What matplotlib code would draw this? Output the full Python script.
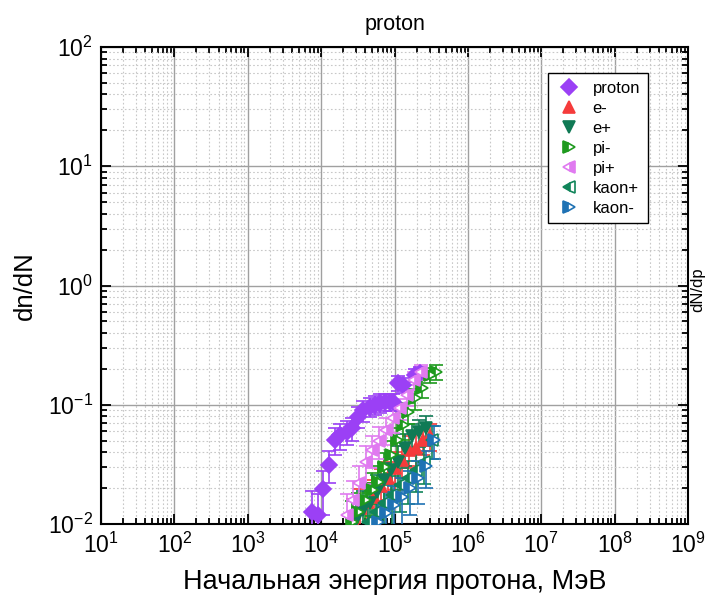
import matplotlib
matplotlib.use("Agg")
import matplotlib.pyplot as plt
from matplotlib.lines import Line2D
from matplotlib.ticker import LogLocator, NullFormatter

plt.rcParams['font.family'] = ['Liberation Sans', 'DejaVu Sans']
plt.rcParams['mathtext.fontset'] = 'custom'
plt.rcParams['mathtext.rm'] = 'Liberation Sans'
plt.rcParams['axes.unicode_minus'] = False

# ---- data ----
proton_E = [7450, 8980, 10700, 12900, 15450, 18100, 22300, 26100, 32100, 37600,
            46400, 54200, 63400, 74200, 86800, 96300, 113000, 132000, 190000, 223000]
proton_y = [0.0127, 0.0119, 0.0197, 0.0313, 0.0506, 0.0557, 0.0594, 0.0638, 0.0794, 0.0904,
            0.0964, 0.0996, 0.1035, 0.106, 0.106, 0.106, 0.152, 0.147, 0.178, 0.1845]
proton_err = [0.5, 0.5, 0.4, 0.3, 0.25, 0.25, 0.22, 0.22, 0.2, 0.2,
              0.18, 0.18, 0.18, 0.17, 0.17, 0.17, 0.15, 0.15, 0.12, 0.12]

em_E = [27200, 33900, 42200, 52600, 65500, 81600, 102000, 126000, 158000, 196000, 245000, 305000]
em_y = [0.0108, 0.0136, 0.0153, 0.0168, 0.0208, 0.0243, 0.0295, 0.0344, 0.0418, 0.0434, 0.0506, 0.0547]
em_err = [0.5, 0.45, 0.45, 0.4, 0.4, 0.35, 0.35, 0.3, 0.3, 0.3, 0.25, 0.25]

ep_E = [29900, 37200, 46400, 57800, 71900, 89600, 112000, 139000, 173000, 216000, 269000]
ep_y = [0.0108, 0.0131, 0.0150, 0.0185, 0.0234, 0.0284, 0.0331, 0.0434, 0.0547, 0.0591, 0.0638]
ep_err = [0.5, 0.45, 0.45, 0.4, 0.4, 0.35, 0.35, 0.3, 0.25, 0.25, 0.25]

pim_E = [26400, 31800, 39700, 49400, 59600, 71900, 89600, 108000, 131000, 153000,
         190000, 237000, 305000, 368000]
pim_y = [0.0104, 0.0126, 0.0159, 0.0193, 0.0225, 0.0301, 0.0379, 0.0506, 0.0676, 0.0869,
         0.114, 0.138, 0.178, 0.188]
pim_err = [0.5, 0.45, 0.4, 0.4, 0.35, 0.3, 0.3, 0.25, 0.25, 0.2, 0.2, 0.18, 0.15, 0.15]

pip_E = [22600, 27200, 32800, 40900, 49400, 61500, 76600, 95500, 119000, 148000, 184000, 230000]
pip_y = [0.0119, 0.0159, 0.0221, 0.0331, 0.0418, 0.0497, 0.0614, 0.0774, 0.094, 0.121, 0.161, 0.188]
pip_err = [0.5, 0.45, 0.4, 0.35, 0.3, 0.3, 0.25, 0.25, 0.2, 0.2, 0.18, 0.15]

kp_E = [43500, 56000, 71900, 92500, 119000, 153000, 196000, 253000, 324000]
kp_y = [0.0104, 0.0126, 0.0150, 0.0175, 0.0212, 0.0243, 0.0284, 0.0331, 0.0506]
kp_err = [0.5, 0.5, 0.45, 0.45, 0.4, 0.4, 0.35, 0.35, 0.3]

km_E = [59600, 76600, 98400, 126000, 163000, 209000, 269000, 345000]
km_y = [0.0104, 0.0124, 0.0144, 0.0168, 0.0200, 0.0243, 0.0306, 0.0506]
km_err = [0.5, 0.5, 0.45, 0.45, 0.4, 0.4, 0.35, 0.3]

labels = ['proton', 'e-', 'e+', 'pi-', 'pi+', 'kaon+', 'kaon-']
colors = ['#9B40F5', '#F53B3B', '#107A55', '#1E9A1E', '#E07AF0', '#10855A', '#1F72B4']
markers = ['D', '^', 'v', '>', '<', '<', '>']
fills = ['full', 'full', 'full', 'left', 'right', 'left', 'left']
sizes = [8.5, 9, 9, 9, 9, 9, 9]

series = [(proton_E, proton_y, proton_err), (em_E, em_y, em_err), (ep_E, ep_y, ep_err),
          (pim_E, pim_y, pim_err), (pip_E, pip_y, pip_err), (kp_E, kp_y, kp_err),
          (km_E, km_y, km_err)]

fig = plt.figure(figsize=(7.05, 6.02), dpi=100)
ax = fig.add_axes([101/705, 1-524/602, 587/705, 477/602])

ax.set_xscale('log')
ax.set_yscale('log')
ax.set_xlim(1e1, 1e9)
ax.set_ylim(1e-2, 1e2)

ax.grid(True, which='major', color='#a0a0a0', lw=1.0, ls='-')
ax.grid(True, which='minor', color='#c8c8c8', lw=0.8, ls=(0, (1.5, 2)))
ax.set_axisbelow(True)

handles = []
for (E, y, fr), lab, c, m, f, s in zip(series, labels, colors, markers, fills, sizes):
    yerr = [v * r for v, r in zip(y, fr)]
    ax.errorbar(E, y, yerr=yerr, fmt='none', ecolor=c, elinewidth=1.2, capsize=5, capthick=1.2, zorder=3)
    ax.plot(E, y, ls='none', marker=m, ms=s, color=c, markeredgecolor=c, fillstyle=f,
            markerfacecoloralt='white', mew=1.2, zorder=4)
    handles.append(Line2D([], [], ls='none', marker=m, ms=s, color=c, markeredgecolor=c,
                          fillstyle=f, markerfacecoloralt='white', mew=1.2, label=lab))

ax.xaxis.set_major_locator(LogLocator(base=10, numticks=20))
ax.xaxis.set_minor_locator(LogLocator(base=10, subs=range(2, 10), numticks=100))
ax.yaxis.set_major_locator(LogLocator(base=10, numticks=20))
ax.yaxis.set_minor_locator(LogLocator(base=10, subs=range(2, 10), numticks=100))
ax.xaxis.set_minor_formatter(NullFormatter())
ax.yaxis.set_minor_formatter(NullFormatter())

ax.tick_params(which='both', direction='in', top=True, right=True, width=1.3, colors='black')
ax.tick_params(which='major', length=7, labelsize=16.5, pad=6)
ax.tick_params(which='minor', length=4)
for sp in ax.spines.values():
    sp.set_linewidth(1.5)

ax.set_title('proton', fontsize=15.5, pad=12)
ax.set_xlabel('Начальная энергия протона, МэВ', fontsize=19.5, labelpad=8)
ax.set_ylabel('dn/dN', fontsize=18.5, labelpad=8)

leg = ax.legend(handles=handles, loc='upper left', bbox_to_anchor=(0.748, 0.962),
                fontsize=12, frameon=True, fancybox=False, framealpha=1, edgecolor='black',
                handletextpad=0.6, labelspacing=0.3, borderpad=0.45, handlelength=1.6)
leg.get_frame().set_linewidth(1.0)

fig.text(1.0, 1-290/602, 'dN/dp', rotation=90, fontsize=12, ha='right', va='center')

fig.savefig('out.png', dpi=100)
